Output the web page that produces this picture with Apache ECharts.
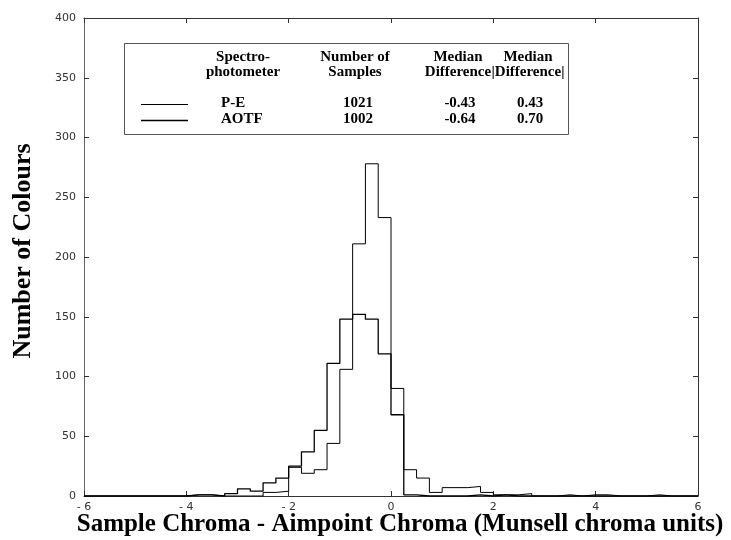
<!DOCTYPE html>
<html>
<head>
<meta charset="utf-8">
<script src="https://cdn.jsdelivr.net/npm/echarts@6/dist/echarts.min.js"></script>
<style>
html,body{margin:0;padding:0;background:#fff;}
#chart{width:731px;height:540px;}
</style>
</head>
<body>
<div id="chart"></div>
<script>
// ---- data ----
const binStart = -4.0;     // left edge of first bin
const binWidth = 0.25;
const pe   = [1,1,0,0,0,0,3,4,24,19,22,44,106,211,278,233,90,22,15,3,7,7,8,3,1,1,2,0,0,1,0,1,1,0,0,0,1,0];
const aotf = [1,1,0,2,6,4,11,15,25,37,55,111,148,152,148,119,68,1,0,0,0,0,1,0,1,0,0,0,0,0,0,0,0,0,0,0,0,0];
const xTicks = [-6,-4,-2,0,2,4,6];
const yTicks = [0,50,100,150,200,250,300,350,400];
const legNames = ['P-E','AOTF'];
const legCounts = ['1021','1002'];
const legMedian = ['-0.43','-0.64'];
const legMedAbs = ['0.43','0.70'];
const headers = [['Spectro-','photometer'],['Number of','Samples'],['Median','Difference'],['Median','|Difference|']];

function stepData(counts){
  const d = [[-6,0]];
  for(let i=0;i<counts.length;i++){ d.push([binStart+i*binWidth, counts[i]]); }
  d.push([binStart+counts.length*binWidth, 0]);
  d.push([6,0]);
  return d;
}

const chart = echarts.init(document.getElementById('chart'), null, {renderer:'canvas'});
const serif = '"Liberation Serif","Times New Roman",serif';
const sans = '"DejaVu Sans",sans-serif';
const axisCol = '#333';

const grid = {left:84, right:33, top:18, bottom:44, show:false};
const textG = [];
// titles
textG.push({type:'text', x:23, y:251, rotation:Math.PI/2, style:{text:'Number of Colours', font:'bold 26px '+serif, fill:'#000', align:'center', verticalAlign:'middle'}});
textG.push({type:'text', x:400, y:525, style:{text:'Sample Chroma - Aimpoint Chroma (Munsell chroma units)', font:'bold 25px '+serif, fill:'#000', align:'center', verticalAlign:'middle'}});
// legend box
textG.push({type:'rect', shape:{x:124.5, y:43.5, width:444, height:91}, style:{fill:'#fff', stroke:'#555', lineWidth:1}, z:10});
const colX = [243, 355, 458, 528];
const lf = 'bold 15px '+serif;
headers.forEach((h,i)=>{
  textG.push({type:'text', x:colX[i], y:57, z:11, style:{text:h[0], font:lf, fill:'#000', align:'center', verticalAlign:'middle'}});
  textG.push({type:'text', x:colX[i], y:72, z:11, style:{text:h[1], font:lf, fill:'#000', align:'center', verticalAlign:'middle'}});
});
const rowY = [103, 119];
const lw = [1, 1.3];
for(let r=0;r<2;r++){
  textG.push({type:'line', z:11, shape:{x1:141, y1:rowY[r]+1.5, x2:188, y2:rowY[r]+1.5}, style:{stroke:'#000', lineWidth:lw[r]}});
  textG.push({type:'text', x:221, y:rowY[r], z:11, style:{text:legNames[r], font:lf, fill:'#000', align:'left', verticalAlign:'middle'}});
  textG.push({type:'text', x:colX[1]+3, y:rowY[r], z:11, style:{text:legCounts[r], font:lf, fill:'#000', align:'center', verticalAlign:'middle'}});
  textG.push({type:'text', x:colX[2]+2, y:rowY[r], z:11, style:{text:legMedian[r], font:lf, fill:'#000', align:'center', verticalAlign:'middle'}});
  textG.push({type:'text', x:colX[3]+2, y:rowY[r], z:11, style:{text:legMedAbs[r], font:lf, fill:'#000', align:'center', verticalAlign:'middle'}});
}

const option = {
  animation:false,
  backgroundColor:'#fff',
  grid: grid,
  xAxis:[
    {type:'value', min:-6, max:6, interval:2, position:'bottom',
     axisLine:{show:true, onZero:false, lineStyle:{color:axisCol, width:1}},
     axisTick:{show:true, inside:true, length:5, lineStyle:{color:axisCol}},
     axisLabel:{show:true, color:'#333', fontSize:11, fontFamily:sans, margin:6,
       formatter:v=> v<0 ? '- '+Math.abs(v) : String(v)},
     splitLine:{show:false}},
    {type:'value', min:-6, max:6, interval:2, position:'top',
     axisLine:{show:true, onZero:false, lineStyle:{color:axisCol, width:1}},
     axisTick:{show:true, inside:true, length:5, lineStyle:{color:axisCol}},
     axisLabel:{show:false}, splitLine:{show:false}}
  ],
  yAxis:[
    {type:'value', min:0, max:400, interval:50, position:'left',
     axisLine:{show:true, onZero:false, lineStyle:{color:'#666', width:1}},
     axisTick:{show:true, inside:true, length:5, lineStyle:{color:axisCol}},
     axisLabel:{show:true, color:'#333', fontSize:11, fontFamily:sans, margin:8},
     splitLine:{show:false}},
    {type:'value', min:0, max:400, interval:50, position:'right',
     axisLine:{show:true, onZero:false, lineStyle:{color:axisCol, width:1}},
     axisTick:{show:true, inside:true, length:5, lineStyle:{color:axisCol}},
     axisLabel:{show:false}, splitLine:{show:false}}
  ],
  series:[
    {name:'P-E', type:'line', step:'end', data:stepData(pe), symbol:'none', lineStyle:{color:'#000', width:1}, z:3},
    {name:'AOTF', type:'line', step:'end', data:stepData(aotf), symbol:'none', lineStyle:{color:'#000', width:1.3}, z:4}
  ],
  graphic: textG
};
chart.setOption(option);
</script>
</body>
</html>
